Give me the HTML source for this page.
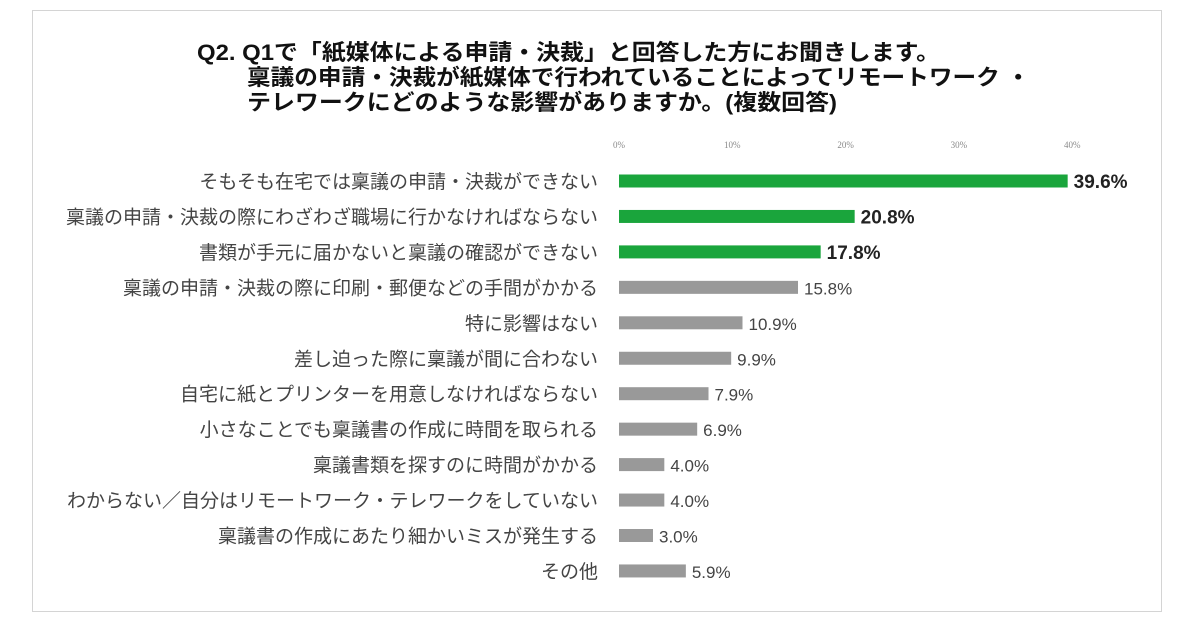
<!DOCTYPE html>
<html><head><meta charset="utf-8"><style>
body{margin:0;width:1200px;height:630px;background:#fff;overflow:hidden;font-family:"Liberation Sans","Noto Sans CJK JP",sans-serif}
#frame{position:absolute;left:32px;top:10px;width:1130px;height:602px;border:1px solid #d4d4d4;box-sizing:border-box}
</style></head><body>
<div id="frame"></div>
<svg id="chart" width="1200" height="630" style="position:absolute;left:0;top:0">
<g font-family="Liberation Sans, Noto Sans CJK JP, sans-serif" font-weight="bold" font-size="22" fill="#111">
<text x="197" y="60" textLength="743" lengthAdjust="spacingAndGlyphs">Q2. Q1で「紙媒体による申請・決裁」と回答した方にお聞きします。</text>
<text x="247" y="85" textLength="783" lengthAdjust="spacingAndGlyphs">稟議の申請・決裁が紙媒体で行われていることによってリモートワーク ・</text>
<text x="247" y="110" textLength="590" lengthAdjust="spacingAndGlyphs">テレワークにどのような影響がありますか。(複数回答)</text>
</g>
</svg>
<script>
const categories=["そもそも在宅では稟議の申請・決裁ができない","稟議の申請・決裁の際にわざわざ職場に行かなければならない","書類が手元に届かないと稟議の確認ができない","稟議の申請・決裁の際に印刷・郵便などの手間がかかる","特に影響はない","差し迫った際に稟議が間に合わない","自宅に紙とプリンターを用意しなければならない","小さなことでも稟議書の作成に時間を取られる","稟議書類を探すのに時間がかかる","わからない／自分はリモートワーク・テレワークをしていない","稟議書の作成にあたり細かいミスが発生する","その他"];
const values=[39.6,20.8,17.8,15.8,10.9,9.9,7.9,6.9,4.0,4.0,3.0,5.9];
const highlighted=[true,true,true,false,false,false,false,false,false,false,false,false];
const ticks=[0,10,20,30,40];
const svg=document.getElementById('chart');
const NS='http://www.w3.org/2000/svg';
const x0=619,pxPer=11.33,y0=181,step=35.45,bh=13;
const xs=v=>x0+v*pxPer;
const ys=i=>y0+i*step;
function mk(t,a){const e=document.createElementNS(NS,t);for(const k in a)e.setAttribute(k,a[k]);svg.appendChild(e);return e;}
ticks.forEach(t=>{
 const e=mk('text',{x:xs(t),y:148,'text-anchor':'middle','font-size':'9','fill':'#888','font-family':'Liberation Serif, serif'});
 e.textContent=t+'%';
 
 
});
categories.forEach((c,i)=>{
 const y=ys(i);
 const l=mk('text',{x:598,y:y+7,'text-anchor':'end','font-size':'19','fill':'#444'});
 l.textContent=c;
 
 
 const r=mk('rect',{x:x0,y:y-bh/2,width:values[i]*pxPer,height:bh,fill:highlighted[i]?'#1aa53c':'#999'});
 
 
 const v=mk('text',{x:xs(values[i])+6,y:y+7,'font-size':highlighted[i]?'19':'17','font-weight':highlighted[i]?'bold':'normal','fill':highlighted[i]?'#222':'#444'});
 v.textContent=values[i].toFixed(1)+'%';
 
 
});
</script>
</body></html>
